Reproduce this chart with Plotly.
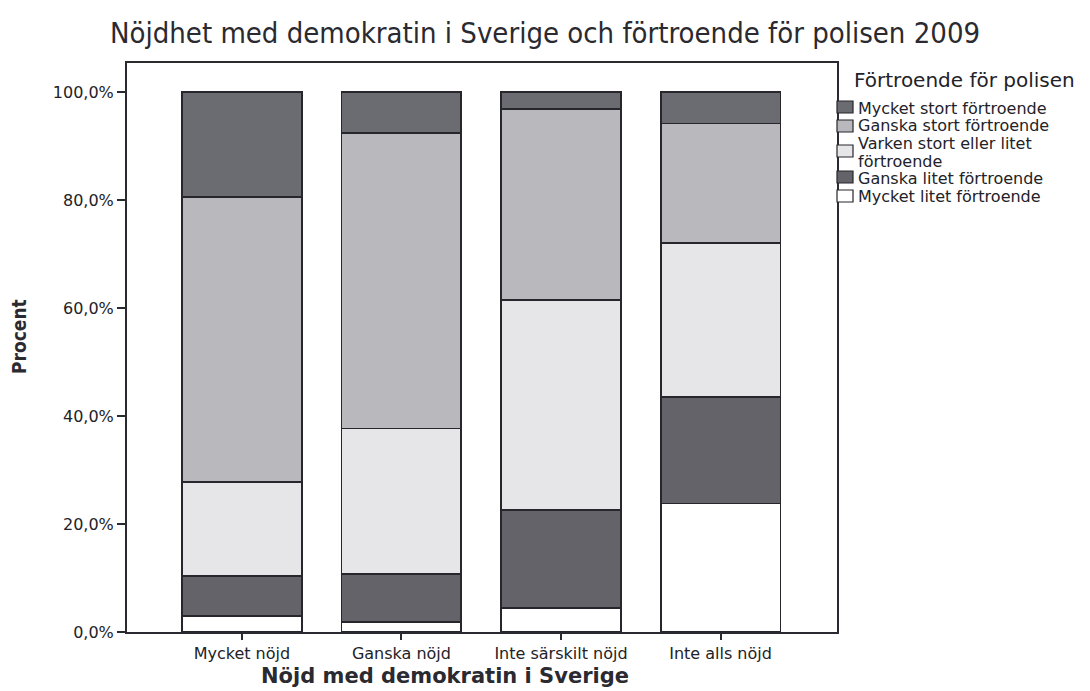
import plotly.graph_objects as go

categories = ["Mycket nöjd", "Ganska nöjd", "Inte särskilt nöjd", "Inte alls nöjd"]

# Percent per category (stack bottom -> top)
mycket_litet = [3.0, 1.9, 4.5, 23.8]
ganska_litet = [7.4, 8.8, 18.1, 19.7]
varken = [17.4, 27.0, 38.9, 28.6]
ganska_stort = [52.8, 54.7, 35.4, 22.1]
mycket_stort = [19.4, 7.6, 3.1, 5.8]

series_names = [
    "Mycket litet förtroende",
    "Ganska litet förtroende",
    "Varken stort eller litet förtroende",
    "Ganska stort förtroende",
    "Mycket stort förtroende",
]
series_values = [mycket_litet, ganska_litet, varken, ganska_stort, mycket_stort]
series_colors = ["#ffffff", "#636369", "#e6e6e9", "#b9b9bd", "#6b6b72"]

legend_title = "Förtroende för polisen"
y_ticks = [0, 20, 40, 60, 80, 100]
y_ticktext = ["0,0%", "20,0%", "40,0%", "60,0%", "80,0%", "100,0%"]

x_pos = list(range(len(categories)))

# plot area in pixels
L, R, T, B = 127, 837, 63, 632
W, H = 1090, 691

def px(x):
    return (x - L) / (R - L)

def py(y):
    return (B - y) / (B - T)

fig = go.Figure()
for name, vals, col in zip(series_names, series_values, series_colors):
    fig.add_trace(go.Bar(
        x=x_pos, y=vals, name=name, width=0.75,
        marker=dict(color=col, line=dict(color="#26262c", width=1.6)),
    ))

TXT = "#222228"
fig.update_layout(
    barmode="stack",
    width=W, height=H,
    paper_bgcolor="white", plot_bgcolor="white",
    margin=dict(l=L, r=W - R, t=T, b=H - B),
    font=dict(family="DejaVu Sans, sans-serif", color=TXT),
    showlegend=False,
    xaxis=dict(
        range=[-0.72, 3.73], tickvals=x_pos, ticktext=categories,
        showline=True, linecolor="#2a2a30", linewidth=2, mirror=True,
        ticks="outside", ticklen=6, tickcolor="#2a2a30", tickwidth=2,
        tickfont=dict(size=16, color=TXT), showgrid=False, zeroline=False,
    ),
    yaxis=dict(
        range=[0, 105.4], tickvals=y_ticks, ticktext=y_ticktext,
        showline=True, linecolor="#2a2a30", linewidth=2, mirror=True,
        ticks="outside", ticklen=8, tickcolor="#2a2a30", tickwidth=2,
        tickfont=dict(size=16, color=TXT), showgrid=False, zeroline=False,
    ),
)

# Title
fig.add_annotation(
    text="Nöjdhet med demokratin i Sverige och förtroende för polisen 2009",
    xref="paper", yref="paper", x=px(545), y=py(33), xanchor="center", yanchor="middle",
    showarrow=False,
    font=dict(family="DejaVu Sans Condensed, sans-serif", size=29, color="#2a2a30"),
)
# Axis titles
fig.add_annotation(
    text="<b>Nöjd med demokratin i Sverige</b>", xref="paper", yref="paper",
    x=px(445), y=py(676), xanchor="center", yanchor="middle", showarrow=False,
    font=dict(family="DejaVu Sans, sans-serif", size=21, color="#2a2a30"),
)
fig.add_annotation(
    text="<b>Procent</b>", xref="paper", yref="paper",
    x=px(19), y=py(337), xanchor="center", yanchor="middle", showarrow=False, textangle=-90,
    font=dict(family="DejaVu Sans Condensed, sans-serif", size=19, color="#2a2a30"),
)

# Manual legend (top item = last series)
fig.add_annotation(
    text=legend_title, xref="paper", yref="paper", x=px(852), y=py(80),
    xanchor="left", yanchor="middle", showarrow=False,
    font=dict(size=20, color=TXT),
)
legend_rows = [  # (square center y, text lines with center y)
    (107, [(108, None)]),
    (126, [(126, None)]),
    (151, [(143, "Varken stort eller litet"), (161, "förtroende")]),
    (177, [(178, None)]),
    (196, [(196, None)]),
]
for (sq_y, lines), name, col in zip(legend_rows, series_names[::-1], series_colors[::-1]):
    fig.add_shape(
        type="rect", xref="paper", yref="paper",
        x0=px(837), x1=px(853), y0=py(sq_y + 6), y1=py(sq_y - 6),
        fillcolor=col, line=dict(color="#26262c", width=1.2),
    )
    for ty, txt in lines:
        fig.add_annotation(
            text=txt if txt else name, xref="paper", yref="paper", x=px(856), y=py(ty),
            xanchor="left", yanchor="middle", showarrow=False,
            font=dict(size=16, color=TXT),
        )

fig.write_html(
    "out.html",
    config={"displayModeBar": False},
    post_script="document.body.style.margin='0px';",
)
